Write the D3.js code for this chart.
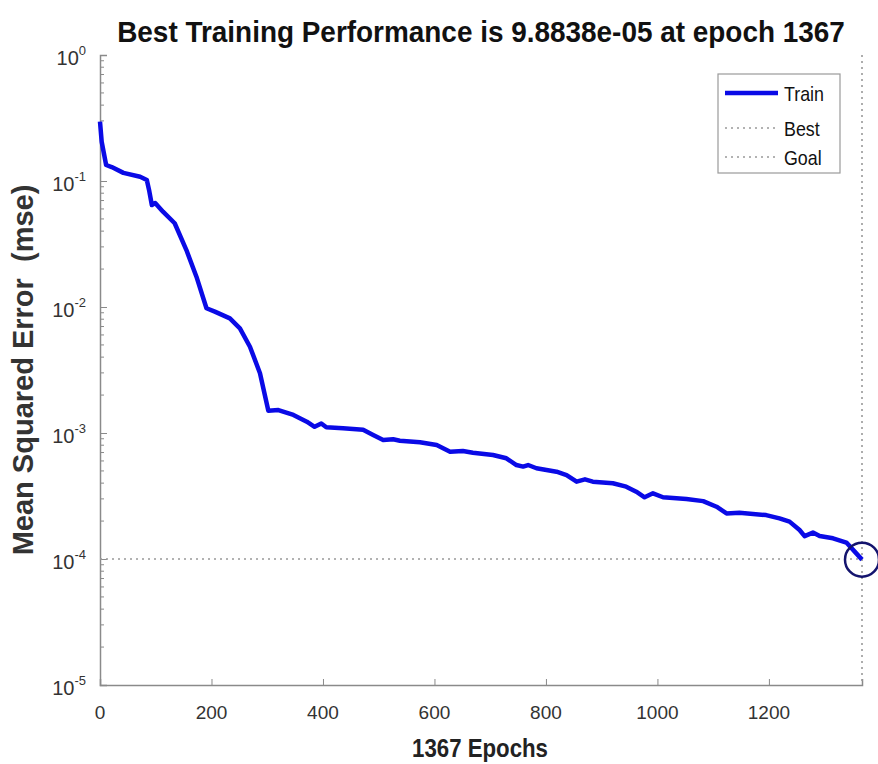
<!DOCTYPE html>
<html>
<head>
  <style>
    body { margin: 0; background: #fff; }
    svg { display: block; }
    .tick-label { font-family: "Liberation Sans", Arial, sans-serif; font-size: 19px; fill: #333; }
  </style>
</head>
<body>
  <script src="https://d3js.org/d3.v7.min.js"></script>
  <script>
    // epochs and mean squared error
    const epochs = [0, 3, 11, 21, 42, 72, 84, 88, 93, 99, 113, 134, 155, 173, 191, 206, 233, 251, 269, 287,
      302, 320, 347, 371, 385, 397, 406, 436, 472, 490, 508, 526, 538, 574, 604, 628, 651, 669, 705, 729,
      747, 759, 768, 783, 819, 837, 855, 870, 884, 920, 944, 962, 977, 992, 1010, 1052, 1082, 1106, 1124, 1147,
      1195, 1219, 1237, 1255, 1264, 1279, 1291, 1315, 1339, 1367];
    const mse = [0.296, 0.205, 0.134, 0.129, 0.116, 0.108, 0.102, 0.0849, 0.0645, 0.0669, 0.0571, 0.0462, 0.0283, 0.0174, 0.00977, 0.00918, 0.00813, 0.00677, 0.00484, 0.00298,
      0.00150, 0.00152, 0.00139, 0.00123, 0.00112, 0.00119, 0.00111, 0.00109, 0.00106, 0.000964, 0.000879, 0.000891, 0.000869, 0.000844, 0.000803, 0.000711, 0.000720, 0.000698, 0.000669, 0.000630,
      0.000557, 0.000541, 0.000557, 0.000525, 0.000493, 0.000464, 0.000411, 0.000429, 0.000411, 0.000399, 0.000375, 0.000342, 0.000309, 0.000332, 0.000309, 0.000299, 0.000288, 0.000260, 0.000230, 0.000233,
      0.000223, 0.000210, 0.000198, 0.000170, 0.000152, 0.000162, 0.000152, 0.000146, 0.000135, 9.8838e-5];

    const bestEpoch = 1367;
    const bestValue = 9.8838e-5;
    const goalValue = 1e-4;

    const xTicks = [0, 200, 400, 600, 800, 1000, 1200];
    const yExponents = [0, -1, -2, -3, -4, -5];
    const legendLabels = ["Train", "Best", "Goal"];

    const width = 878, height = 764;
    const margin = { left: 100, top: 55, right: 16, bottom: 79 };

    const svg = d3.select('body').append('svg')
      .attr('width', width)
      .attr('height', height);

    const x = d3.scaleLinear().domain([0, bestEpoch]).range([margin.left, width - margin.right]);
    const y = d3.scaleLog().domain([1e-5, 1]).range([height - margin.bottom, margin.top]);

    const axisColor = '#8a8a8a';

    // squeeze a text horizontally so it spans the given width (the original uses a narrow face)
    function fitText(sel, target) {
      const w = sel.node().getComputedTextLength();
      const t = sel.attr('transform') || '';
      sel.attr('transform', t + ` scale(${Math.min(1, target / w)},1)`);
    }

    // x axis, ticks pointing inward
    const xAxis = svg.append('g')
      .attr('transform', `translate(0,${y(1e-5)})`)
      .call(d3.axisBottom(x).tickValues(xTicks).tickSize(-6).tickFormat(''));
    xAxis.select('.domain').attr('stroke', axisColor).attr('stroke-width', 1.5);
    xAxis.selectAll('.tick line').attr('stroke', axisColor);

    svg.selectAll('.xlab')
      .data(xTicks)
      .enter().append('text')
      .attr('class', 'tick-label')
      .attr('x', d => x(d))
      .attr('y', y(1e-5) + 34)
      .attr('text-anchor', 'middle')
      .text(d => d);

    // y axis with minor log ticks
    const minor = [];
    for (let e = -5; e < 0; e++) {
      for (let m = 2; m <= 9; m++) minor.push(m * Math.pow(10, e));
    }
    const yAxis = svg.append('g')
      .attr('transform', `translate(${x(0)},0)`)
      .call(d3.axisLeft(y).tickValues(yExponents.map(e => Math.pow(10, e))).tickSize(-7).tickFormat(''));
    yAxis.select('.domain').attr('stroke', axisColor).attr('stroke-width', 1.5);
    yAxis.selectAll('.tick line').attr('stroke', axisColor);

    svg.append('g').selectAll('line')
      .data(minor)
      .enter().append('line')
      .attr('x1', x(0)).attr('x2', x(0) + 4)
      .attr('y1', d => y(d)).attr('y2', d => y(d))
      .attr('stroke', axisColor);

    const ylab = svg.selectAll('.ylab')
      .data(yExponents)
      .enter().append('text')
      .attr('class', 'tick-label')
      .attr('x', x(0) - 14)
      .attr('y', d => y(Math.pow(10, d)) + 10)
      .attr('text-anchor', 'end');
    ylab.append('tspan').style('font-size', '20px').text('10');
    ylab.append('tspan')
      .attr('dy', -10)
      .style('font-size', '13px')
      .text(d => d);

    // goal and best reference lines
    const dotted = '2,4';
    svg.append('line')
      .attr('x1', x(0)).attr('x2', x(bestEpoch))
      .attr('y1', y(goalValue)).attr('y2', y(goalValue))
      .attr('stroke', '#999').attr('stroke-width', 1.6).attr('stroke-dasharray', dotted);
    svg.append('line')
      .attr('x1', x(bestEpoch)).attr('x2', x(bestEpoch))
      .attr('y1', y(1)).attr('y2', y(1e-5))
      .attr('stroke', '#999').attr('stroke-width', 1.6).attr('stroke-dasharray', dotted);

    // training curve
    const line = d3.line()
      .x((d, i) => x(epochs[i]))
      .y(d => y(d));
    svg.append('path')
      .datum(mse)
      .attr('fill', 'none')
      .attr('stroke', '#0a0ae6')
      .attr('stroke-width', 4.5)
      .attr('stroke-linejoin', 'round')
      .attr('d', line);

    // best point marker
    svg.append('circle')
      .attr('cx', x(bestEpoch))
      .attr('cy', y(bestValue))
      .attr('r', 17)
      .attr('fill', 'none')
      .attr('stroke', '#14146e')
      .attr('stroke-width', 2.5);

    // legend
    const legend = svg.append('g').attr('transform', 'translate(718,74)');
    legend.append('rect')
      .attr('width', 122).attr('height', 99)
      .attr('fill', '#fff').attr('stroke', '#9a9a9a').attr('stroke-width', 1.2);
    const rows = legend.selectAll('g.row')
      .data(legendLabels)
      .enter().append('g')
      .attr('transform', (d, i) => `translate(0,${[19, 54, 83][i]})`);
    rows.append('line')
      .attr('x1', 7).attr('x2', 60)
      .attr('stroke', (d, i) => i === 0 ? '#0a0ae6' : '#999')
      .attr('stroke-width', (d, i) => i === 0 ? 4.5 : 1.6)
      .attr('stroke-dasharray', (d, i) => i === 0 ? null : dotted);
    rows.append('text')
      .attr('transform', 'translate(66,8)')
      .style('font-family', '"Liberation Sans", Arial, sans-serif')
      .style('font-size', '21px')
      .style('fill', '#111')
      .text(d => d)
      .each(function () { fitText(d3.select(this), this.getComputedTextLength() * 0.85); });

    // title and axis titles
    const title = svg.append('text')
      .attr('transform', 'translate(481,42)')
      .attr('text-anchor', 'middle')
      .style('font-family', '"Liberation Sans", Arial, sans-serif')
      .style('font-weight', 'bold')
      .style('font-size', '30px')
      .style('fill', '#111')
      .text('Best Training Performance is 9.8838e-05 at epoch 1367');
    fitText(title, 728);

    const xTitle = svg.append('text')
      .attr('transform', 'translate(480,757)')
      .attr('text-anchor', 'middle')
      .style('font-family', '"Liberation Sans", Arial, sans-serif')
      .style('font-weight', 'bold')
      .style('font-size', '26px')
      .style('fill', '#222')
      .text('1367 Epochs');
    fitText(xTitle, 136);

    const yTitle = svg.append('text')
      .attr('transform', 'translate(33,370) rotate(-90)')
      .attr('text-anchor', 'middle')
      .style('font-family', '"Liberation Sans", Arial, sans-serif')
      .style('font-weight', 'bold')
      .style('font-size', '29px')
      .style('fill', '#333')
      .style('white-space', 'pre')
      .text('Mean Squared Error  (mse)');
    fitText(yTitle, 378);
  </script>
</body>
</html>
